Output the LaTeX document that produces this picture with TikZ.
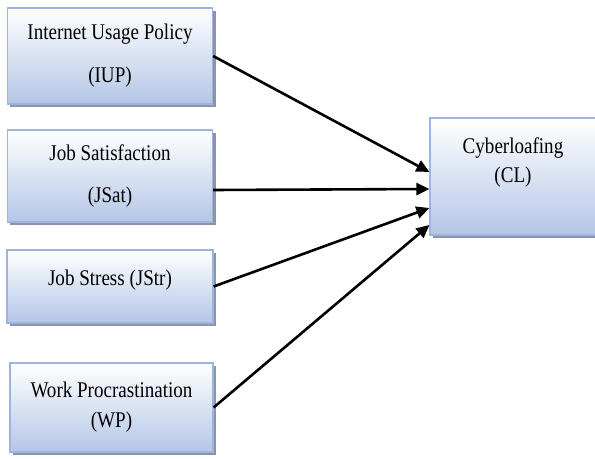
\documentclass[tikz,border=0pt]{standalone}
\usepackage{fontspec}
\setmainfont[FakeStretch=0.85]{Liberation Serif}
\usetikzlibrary{arrows.meta,shadows}

\definecolor{boxfill}{HTML}{B4C6E7}
\definecolor{boxline}{HTML}{9DB5DE}
\definecolor{shadowgray}{HTML}{8C95A8}

\begin{document}
\begin{tikzpicture}[x=1bp,y=-1bp,
  varbox/.style={draw=boxline, line width=1.2bp, top color=white, bottom color=boxfill,
    drop shadow={shadow xshift=3bp, shadow yshift=-3bp, fill=shadowgray, opacity=1},
    align=center, inner sep=0pt, font=\fontsize{22.5}{27}\selectfont},
  link/.style={-{Triangle[length=13bp,width=12bp]}, line width=2.6bp}]
\useasboundingbox (0,0) rectangle (595,459);

% Draw boxes
\node[varbox, minimum width=205bp, minimum height=96bp] (iup) at (110,56)
  {Internet Usage Policy\\[16bp](IUP)};
\node[varbox, minimum width=205bp, minimum height=92bp] (jsat) at (110,176)
  {Job Satisfaction\\[15bp](JSat)};
\node[varbox, minimum width=206bp, minimum height=73bp, text depth=18bp] (jstr) at (110,286.5)
  {Job Stress (JStr)};
\node[varbox, minimum width=203bp, minimum height=89bp] (wp) at (111.5,407.5)
  {Work Procrastination\\[3bp](WP)};
\node[varbox, minimum width=166bp, minimum height=117bp, text depth=33bp] (cl) at (513,176.5)
  {Cyberloafing\\[2bp](CL)};

% Draw arrows
\draw[link] (iup.east) -- ([yshift=4.5bp]cl.west);
\draw[link] ([yshift=-14bp]jsat.east) -- ([yshift=-12.5bp]cl.west);
\draw[link] (jstr.east) -- ([yshift=-31.5bp]cl.west);
\draw[link] (wp.east) -- ([yshift=-48.5bp]cl.west);
\end{tikzpicture}
\end{document}
